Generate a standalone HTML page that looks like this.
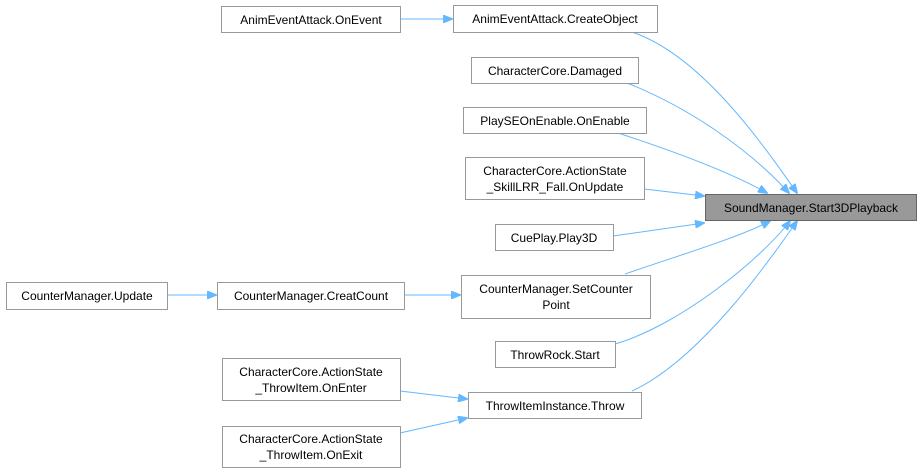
<!DOCTYPE html>
<html><head><meta charset="utf-8"><style>
html,body{margin:0;padding:0;background:#fff;}
svg{display:block;}
text{font-family:"Liberation Sans",Arial,sans-serif;font-size:12px;fill:#000;}
</style></head><body>
<svg width="922" height="473" viewBox="0 0 922 473" xmlns="http://www.w3.org/2000/svg">
<defs>
<marker id="a" markerWidth="10" markerHeight="8" refX="9" refY="4" orient="auto" markerUnits="userSpaceOnUse">
<path d="M0,0 L10,4 L0,8 z" fill="#63b8ff" stroke="#63b8ff"/>
</marker>
</defs>
<g fill="none" stroke="#63b8ff" stroke-width="1" marker-end="url(#a)">
<path d="M400,19 L452,19"/>
<path d="M632,32 C700,55 760,140 797,193"/>
<path d="M627,83 C690,108 750,150 789,193"/>
<path d="M618,133 C670,150 730,172 767,193"/>
<path d="M644,189 L704,196"/>
<path d="M613,236 L704,223"/>
<path d="M625,274 C680,255 740,237 770,221"/>
<path d="M615,344 C680,325 760,260 790,221"/>
<path d="M632,391 C700,360 770,260 797,221"/>
<path d="M167,295 L216,295"/>
<path d="M404,295 L460,295"/>
<path d="M400,391 L467,399"/>
<path d="M400,433 L467,418"/>
</g>
<g fill="#fff" stroke="#999" stroke-width="1">
<rect x="221.5" y="6.5" width="179" height="26"/>
<rect x="453.5" y="5.5" width="204" height="27"/>
<rect x="471.5" y="57.5" width="167" height="26"/>
<rect x="463.5" y="107.5" width="183" height="26"/>
<rect x="465.5" y="157.5" width="179" height="42"/>
<rect x="705.5" y="194.5" width="211" height="26" fill="#999" stroke="#666"/>
<rect x="495.5" y="224.5" width="118" height="26"/>
<rect x="6.5" y="282.5" width="161" height="27"/>
<rect x="217.5" y="282.5" width="187" height="27"/>
<rect x="461.5" y="275.5" width="189" height="43"/>
<rect x="495.5" y="341.5" width="120" height="26"/>
<rect x="222.5" y="358.5" width="178" height="42"/>
<rect x="468.5" y="392.5" width="173" height="26"/>
<rect x="222.5" y="426.5" width="178" height="41"/>
</g>
<g text-anchor="middle">
<text x="311" y="24">AnimEventAttack.OnEvent</text>
<text x="555" y="23">AnimEventAttack.CreateObject</text>
<text x="555" y="75">CharacterCore.Damaged</text>
<text x="555" y="125">PlaySEOnEnable.OnEnable</text>
<text x="555" y="175">CharacterCore.ActionState</text>
<text x="555" y="191">_SkillLRR_Fall.OnUpdate</text>
<text x="811" y="212">SoundManager.Start3DPlayback</text>
<text x="554" y="242">CuePlay.Play3D</text>
<text x="87" y="300">CounterManager.Update</text>
<text x="311" y="300">CounterManager.CreatCount</text>
<text x="556" y="293">CounterManager.SetCounter</text>
<text x="556" y="309">Point</text>
<text x="555" y="359">ThrowRock.Start</text>
<text x="311" y="376">CharacterCore.ActionState</text>
<text x="311" y="392">_ThrowItem.OnEnter</text>
<text x="555" y="410">ThrowItemInstance.Throw</text>
<text x="311" y="443">CharacterCore.ActionState</text>
<text x="311" y="459">_ThrowItem.OnExit</text>
</g>
</svg>
</body></html>
